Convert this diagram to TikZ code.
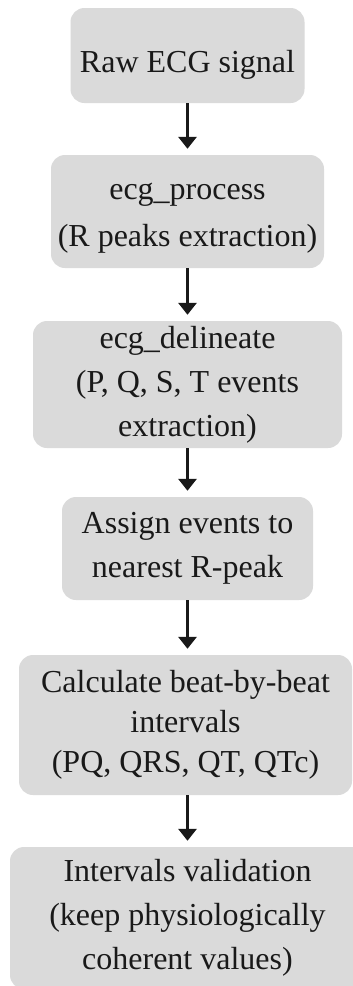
\documentclass[tikz,border=0pt]{standalone}
\usepackage{fontspec}
\setmainfont{Liberation Serif}
\usetikzlibrary{arrows.meta}
\definecolor{boxgray}{RGB}{218,218,218}

\tikzset{
  stepbox/.style={fill=boxgray, rounded corners=14pt, align=center, inner sep=0pt,
    text=black!90, font=\fontsize{32}{44}\selectfont},
  flow/.style={-{Triangle[width=18pt,length=12pt]}, line width=3pt, black!90, shorten >=6pt}
}

\begin{document}
\begin{tikzpicture}[x=1pt,y=-1pt]
  \useasboundingbox[fill=white] (0,0) rectangle (353,986);

  \node[stepbox, minimum width=234pt, minimum height=95pt, text height=40pt] (raw) at (187.5,55.5) {Raw ECG signal};
  \node[stepbox, minimum width=273pt, minimum height=113pt, font=\fontsize{32}{47}\selectfont, text height=77pt] (process) at (187.5,211.5) {ecg\_process\\(R peaks extraction)};
  \node[stepbox, minimum width=309pt, minimum height=127pt] (delineate) at (187.5,384.5) {ecg\_delineate\\(P, Q, S, T events\\extraction)};
  \node[stepbox, minimum width=251pt, minimum height=103pt] (assign) at (187.5,548.5) {Assign events to\\nearest R-peak};
  \node[stepbox, minimum width=333pt, minimum height=140pt, font=\fontsize{32}{40}\selectfont] (calc) at (185.5,725) {Calculate beat-by-beat\\intervals\\ (PQ, QRS, QT, QTc)};
  \node[stepbox, minimum width=355pt, minimum height=142pt] (valid) at (187.5,918) {Intervals validation\\(keep physiologically\\coherent values)};

  \draw[flow] (raw.south -| 187.5,0) -- (process.north -| 187.5,0);
  \draw[flow] (process.south -| 187.5,0) -- (delineate.north -| 187.5,0);
  \draw[flow] (delineate.south -| 187.5,0) -- (assign.north -| 187.5,0);
  \draw[flow] (assign.south -| 187.5,0) -- (calc.north -| 187.5,0);
  \draw[flow] (calc.south -| 187.5,0) -- (valid.north -| 187.5,0);
\end{tikzpicture}
\end{document}
